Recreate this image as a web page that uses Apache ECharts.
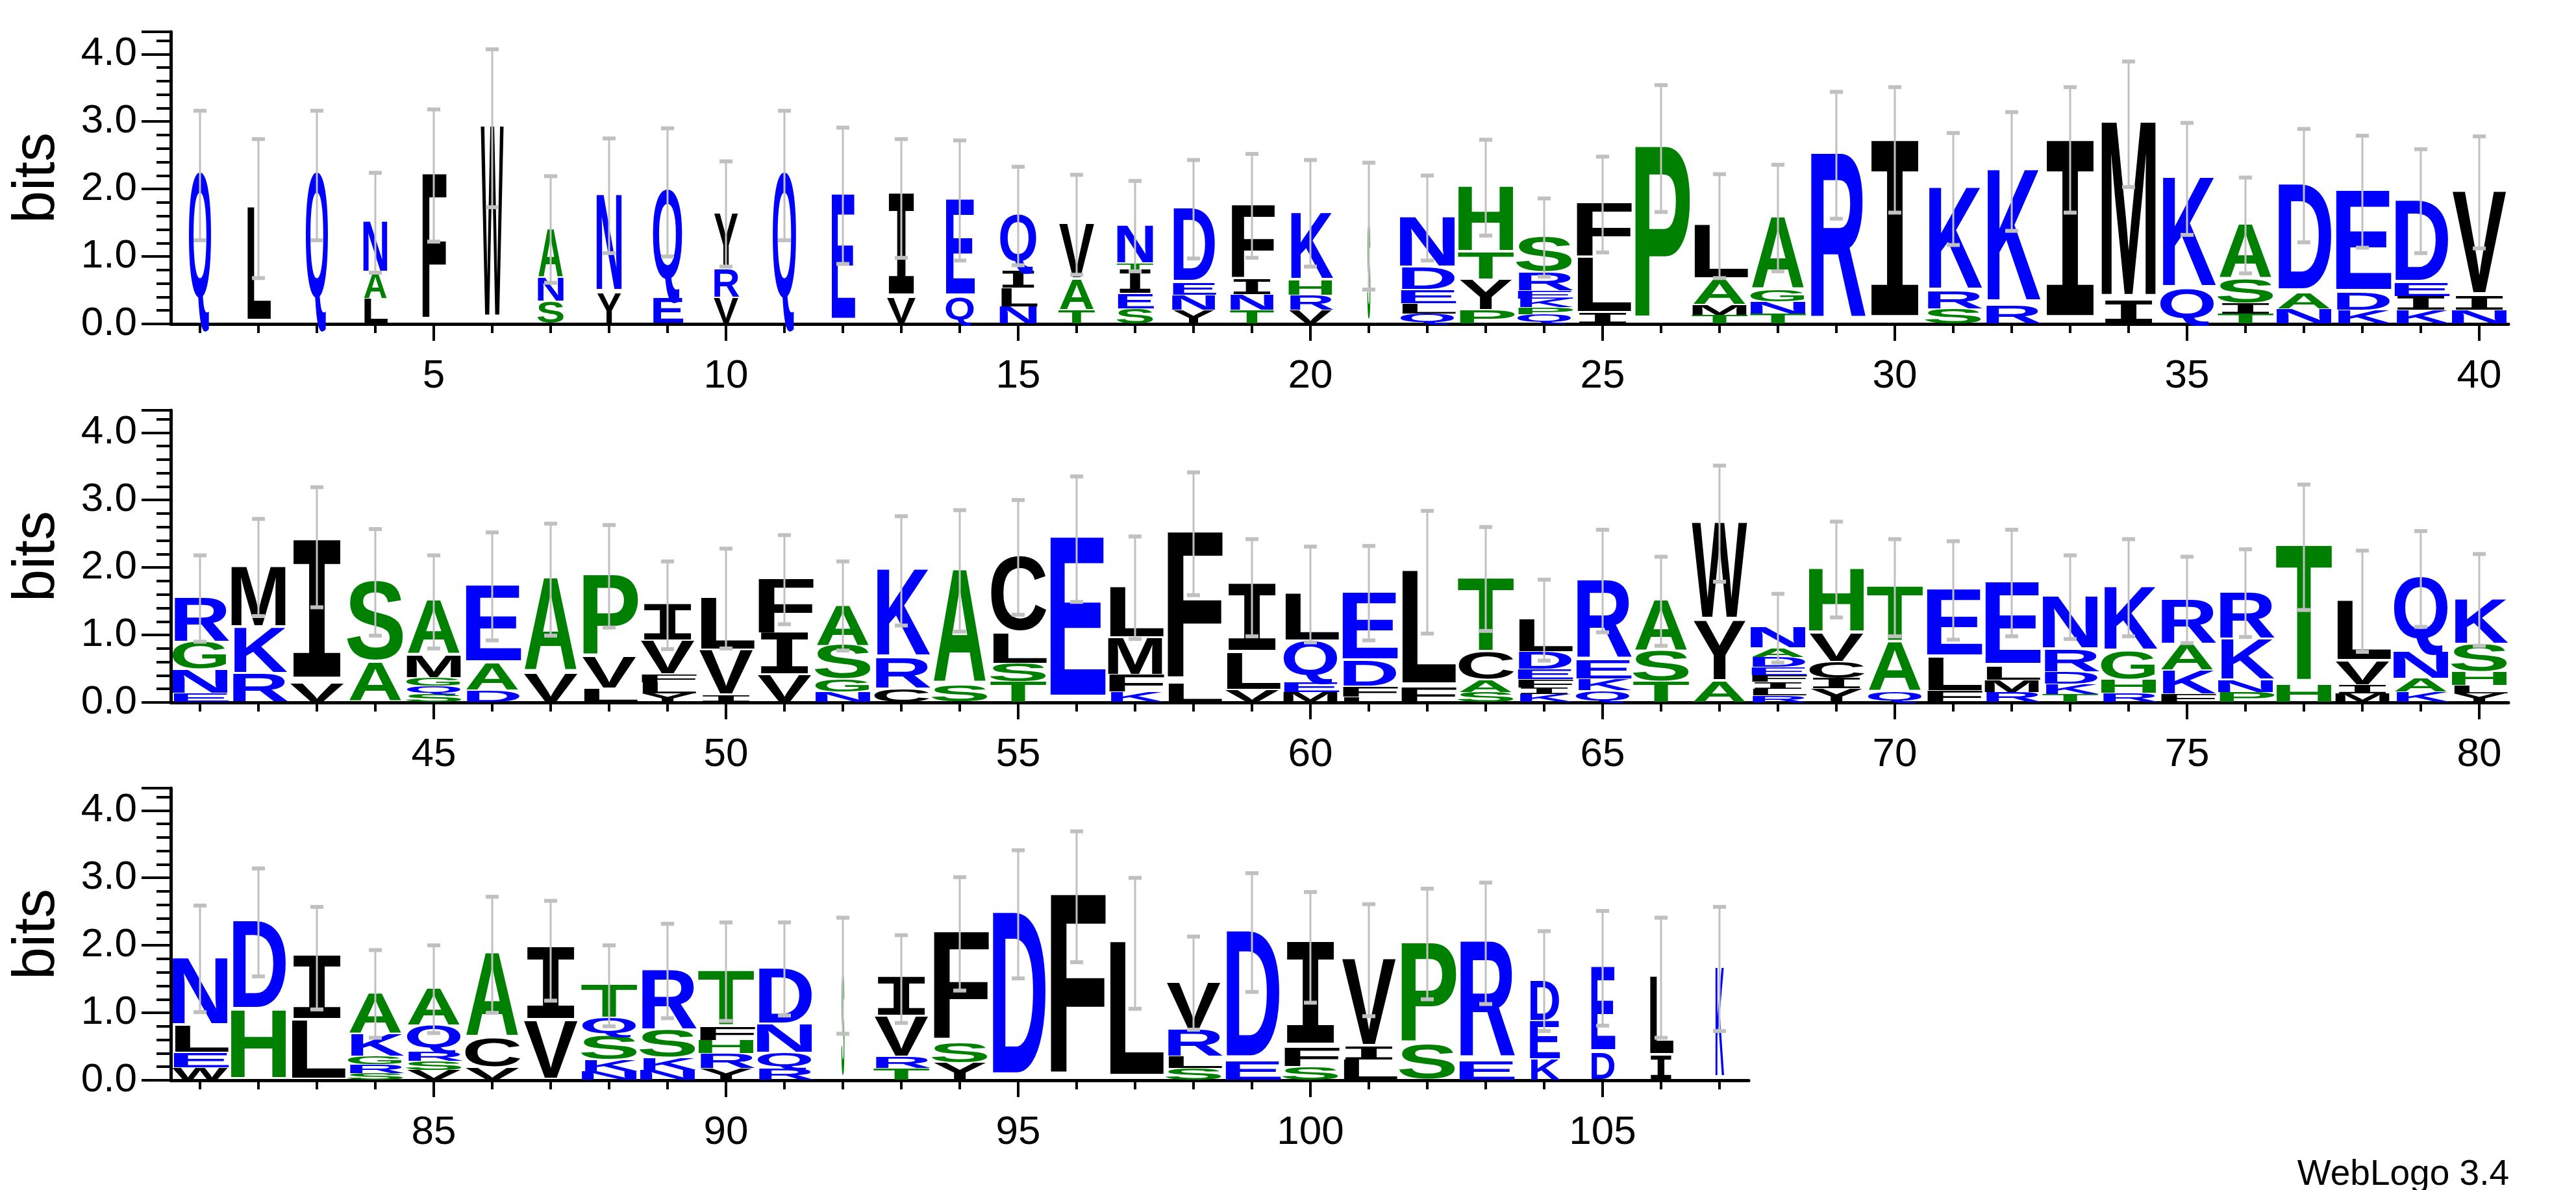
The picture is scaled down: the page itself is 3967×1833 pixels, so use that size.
<!DOCTYPE html>
<html><head><meta charset="utf-8">
<script src="https://cdn.jsdelivr.net/npm/echarts@6/dist/echarts.min.js"></script>
<style>html,body{margin:0;padding:0;background:#fff}#c{width:3967px;height:1833px}</style>
</head><body><div id="c"></div>
<script>
// letters per position, bottom -> top
const seqLetters = [
"Q","L","Q","LAN","F","W","SNA","YN","EQ","VRY",
"Q","E","VI","QE","NLIQ","TAV","SEITN","YNED","TNIF","VRHK",
"S","QLEDN","PYTH","QPKERS","ILF","P","TMAL","TNGA","R","I",
"SRK","RK","I","IM","QK","TISA","NAD","KDE","KIED","NIV",
"ENGR","RKM","VI","AS","SQGMA","DAE","VA","LVP","YLFVI","IVL",
"VIF","NGSA","CRK","SA","TSLC","E","KFML","LF","VLI","MEQL",
"LFDE","FL","SACT","KIFEDL","QKER","TSA","AYW","RLIFEDAN","YICVH","QAT",
"FLE","RMLE","TKDRN","RHGK","FKAR","PNKR","HT","MIVL","KANQ","YLHSK",
"WELN","HD","LI","SRGKA","VSRQA","VCA","VI","NKSQT","NKSR","YRHFT",
"RQND","S","TRVI","YSF","D","F","L","SLRV","ED","SFI",
"LIV","SP","ER","KED","DE","IL","K"];
// letter heights in bits, bottom -> top
const seqHeights = [
[2.2],[1.71],[2.2],[0.37,0.38,0.75],[2.2],[2.9],[0.33,0.35,0.72],[0.45,1.45],[0.38,1.57],[0.38,0.42,0.83],
[2.2],[1.9],[0.38,1.48],[0.38,1.45],[0.25,0.28,0.25,0.82],[0.2,0.45,0.82],[0.22,0.22,0.35,0.1,0.56],[0.2,0.22,0.18,1.1],[0.2,0.23,0.22,1.1],[0.2,0.22,0.22,1.0],
[1.45],[0.15,0.15,0.2,0.33,0.74],[0.2,0.45,0.4,0.97],[0.14,0.1,0.13,0.12,0.27,0.52],[0.15,0.82,0.8],[2.6],[0.13,0.15,0.37,0.8],[0.15,0.18,0.17,1.07],[2.5],[2.58],
[0.22,0.25,1.53],[0.27,1.99],[2.58],[0.32,2.64],[0.5,1.65],[0.15,0.15,0.35,0.81],[0.22,0.23,1.6],[0.2,0.25,1.51],[0.2,0.2,0.2,1.22],[0.2,0.2,1.55],
[0.13,0.35,0.4,0.66],[0.42,0.68,0.9],[0.28,2.02],[0.58,1.2],[0.12,0.12,0.12,0.33,0.8],[0.17,0.4,1.15],[0.42,1.4],[0.2,0.47,1.2],[0.13,0.16,0.12,0.5,0.53],[0.1,0.66,0.78],
[0.4,0.6,0.82],[0.15,0.18,0.5,0.6],[0.2,0.45,1.3],[0.25,1.7],[0.3,0.27,0.45,1.13],[2.42],[0.15,0.25,0.55,0.75],[0.28,2.22],[0.18,0.55,0.97],[0.15,0.15,0.6,0.7],
[0.08,0.15,0.38,1.01],[0.22,1.71],[0.15,0.18,0.4,1.1],[0.12,0.1,0.12,0.15,0.25,0.48],[0.17,0.17,0.28,1.18],[0.3,0.45,0.75],[0.3,0.9,1.45],[0.1,0.1,0.1,0.1,0.12,0.15,0.13,0.3],[0.2,0.15,0.25,0.42,0.95],[0.15,0.73,0.82],
[0.16,0.5,1.0],[0.15,0.18,0.2,1.24],[0.12,0.15,0.18,0.33,0.78],[0.13,0.2,0.42,0.95],[0.12,0.35,0.38,0.67],[0.15,0.18,0.6,0.69],[0.25,2.05],[0.13,0.12,0.35,0.9],[0.15,0.2,0.4,1.08],[0.13,0.12,0.2,0.4,0.67],
[0.18,0.22,0.4,1.0],[1.02,1.32],[0.88,0.93],[0.1,0.13,0.12,0.33,0.6],[0.15,0.13,0.14,0.38,0.55],[0.18,0.43,1.25],[0.87,1.05],[0.13,0.17,0.35,0.27,0.48],[0.15,0.18,0.4,0.89],[0.17,0.22,0.2,0.2,0.82],
[0.17,0.23,0.42,0.83],[1.55],[0.17,0.17,0.6,0.56],[0.25,0.3,1.62],[2.46],[2.72],[2.03],[0.17,0.18,0.4,0.69],[0.28,1.91],[0.2,0.28,1.49],
[0.3,0.18,1.3],[0.52,1.5],[0.28,1.75],[0.3,0.57,0.6],[0.4,1.26],[0.35,1.17],[1.65]];
// upper end of each error bar (bits)
const errTop = [
3.16,2.74,3.16,2.24,3.18,4.07,2.19,2.75,2.9,2.41,3.16,2.91,2.74,2.72,2.33,2.21,2.12,2.43,2.52,2.43,
2.39,2.2,2.73,1.86,2.48,3.54,2.22,2.36,3.44,3.51,2.83,3.14,3.51,3.89,2.98,2.17,2.89,2.79,2.59,2.78,
2.18,2.72,3.19,2.57,2.18,2.52,2.65,2.63,2.09,2.28,2.48,2.09,2.76,2.85,3.0,3.35,2.46,3.41,2.42,2.31,
2.32,2.84,2.6,1.82,2.56,2.16,3.51,1.61,2.68,2.42,2.39,2.56,2.18,2.42,2.16,2.27,3.23,2.25,2.54,2.2,
2.59,3.14,2.57,1.93,2.0,2.72,2.66,2.0,2.32,2.34,2.34,2.41,2.15,3.01,3.41,3.69,3.0,2.13,3.07,2.79,
2.61,2.84,2.93,2.21,2.51,2.41,2.57];
// positions whose letters are narrower than a full column (fraction of column)
const narrowCols = {1:0.38,2:0.4,3:0.38,4:0.4,5:0.4,6:0.38,7:0.43,8:0.42,9:0.5,10:0.42,11:0.4,12:0.39,
13:0.49,14:0.48,15:0.62,16:0.6,17:0.6,18:0.72,19:0.72,20:0.73,21:0.05,92:0.05,104:0.5,105:0.4,106:0.4,107:0.15};
const rowRanges = [[1,40],[41,80],[81,107]];
const xLabels = [[5,10,15,20,25,30,35,40],[45,50,55,60,65,70,75,80],[85,90,95,100,105]];

const BLUE='#0000ff', GREEN='#008000', BLACK='#000000';
const colorOf = c => 'QNEDKR'.includes(c)?BLUE:('HASTGP'.includes(c)?GREEN:BLACK);
const INK = {A:.70,C:.64,D:.63,E:.55,F:.50,G:.68,H:.58,I:.50,K:.66,L:.52,M:.70,N:.58,P:.56,Q:.70,R:.63,S:.58,T:.57,V:.66,W:.92,Y:.66};
const DESC = {Q:0.12,C:0.012,G:0.012,S:0.012};
const CAP = 0.716, MID = 0.31, FS = 100;

const chart = echarts.init(document.getElementById('c'));
const grids=[], xAxes=[], yAxes=[], series=[];
const tops=[49,632,1214];
rowRanges.forEach((r,gi)=>{
  const n=r[1]-r[0]+1;
  grids.push({left:263, top:tops[gi], width:n*90, height:450});
  const ints=[]; for(let p=r[0];p<=r[1];p++) ints.push(p);
  xAxes.push({gridIndex:gi,type:'value',min:r[0]-0.5,max:r[1]+0.5,position:'bottom',
    axisLine:{show:true,onZero:false,lineStyle:{color:'#000',width:5}},
    axisTick:{show:true,customValues:ints,length:14,lineStyle:{color:'#000',width:4}},
    axisLabel:{show:false},splitLine:{show:false}});
  xAxes.push({gridIndex:gi,type:'value',min:r[0]-0.5,max:r[1]+0.5,position:'bottom',
    axisLine:{show:false},
    axisTick:{show:true,customValues:xLabels[gi],length:26,lineStyle:{color:'#000',width:4}},
    axisLabel:{show:true,customValues:xLabels[gi],margin:50,fontSize:62,color:'#000',fontFamily:'Liberation Sans'},
    splitLine:{show:false}});
  yAxes.push({gridIndex:gi,type:'value',min:0,max:4.33,interval:1,
    name:'bits',nameLocation:'middle',nameRotate:90,nameGap:160,
    nameTextStyle:{fontSize:90,color:'#000',fontFamily:'Liberation Sans'},
    axisLine:{show:true,lineStyle:{color:'#000',width:5}},
    axisTick:{show:true,length:45,lineStyle:{color:'#000',width:4}},
    minorTick:{show:true,splitNumber:5,length:22,lineStyle:{color:'#000',width:4}},
    axisLabel:{margin:52,fontSize:62,color:'#000',fontFamily:'Liberation Sans',formatter:v=>v.toFixed(1),showMaxLabel:false},
    splitLine:{show:false}});
  const letterData=[], errData=[];
  for(let p=r[0];p<=r[1];p++){
    const L=seqLetters[p-1], H=seqHeights[p-1];
    const w=(narrowCols[p]||0.92);
    let y=0;
    for(let k=0;k<L.length;k++){ letterData.push([p,y,y+H[k],w,L.charCodeAt(k)]); y+=H[k]; }
    const dev=errTop[p-1]-y;
    errData.push([p,y-dev,errTop[p-1]]);
  }
  series.push({type:'custom',xAxisIndex:gi*2,yAxisIndex:gi,data:letterData,z:2,silent:true,
    renderItem:(params,api)=>{
      const p=api.value(0),y0=api.value(1),y1=api.value(2),w=api.value(3);
      const ch=String.fromCharCode(api.value(4));
      const a=api.coord([p-w/2,y0]), b=api.coord([p+w/2,y1]);
      const pw=b[0]-a[0], ph=a[1]-b[1];
      if(ph<1) return null;
      const isI = ch==='I';
      const font = isI ? 'bold 100px "DejaVu Sans Mono"' : 'bold 100px "Liberation Sans"';
      const ink = isI ? 0.50 : INK[ch];
      const d = DESC[ch]||0;
      const cap = (isI ? 0.729 : CAP) + d;
      const mid = isI ? 0.297 : MID;
      return {type:'text',x:(a[0]+b[0])/2,y:a[1],scaleX:pw/(ink*FS),scaleY:ph/(cap*FS),
        style:{text:ch,font:font,fill:colorOf(ch),align:'center',verticalAlign:'middle',x:0,y:-(mid+d)*FS}};
    }});
  series.push({type:'custom',xAxisIndex:gi*2,yAxisIndex:gi,data:errData,z:5,silent:true,
    renderItem:(params,api)=>{
      const p=api.value(0);
      const lo=api.coord([p,api.value(1)]), hi=api.coord([p,api.value(2)]);
      const st={stroke:'#c0c0c0',lineWidth:3};
      return {type:'group',children:[
        {type:'line',shape:{x1:lo[0],y1:lo[1],x2:hi[0],y2:hi[1]},style:st},
        {type:'rect',shape:{x:hi[0]-10,y:hi[1]-3,width:20,height:6},style:{fill:'#c0c0c0'}},
        {type:'rect',shape:{x:lo[0]-10,y:lo[1]-3,width:20,height:6},style:{fill:'#c0c0c0'}}]};
    }});
});
chart.setOption({animation:false,backgroundColor:'#fff',grid:grids,xAxis:xAxes,yAxis:yAxes,series:series,
  graphic:[{type:'text',right:103,top:1782,style:{text:'WebLogo 3.4',font:'55px "Liberation Sans"',fill:'#000'}}]});
</script></body></html>
